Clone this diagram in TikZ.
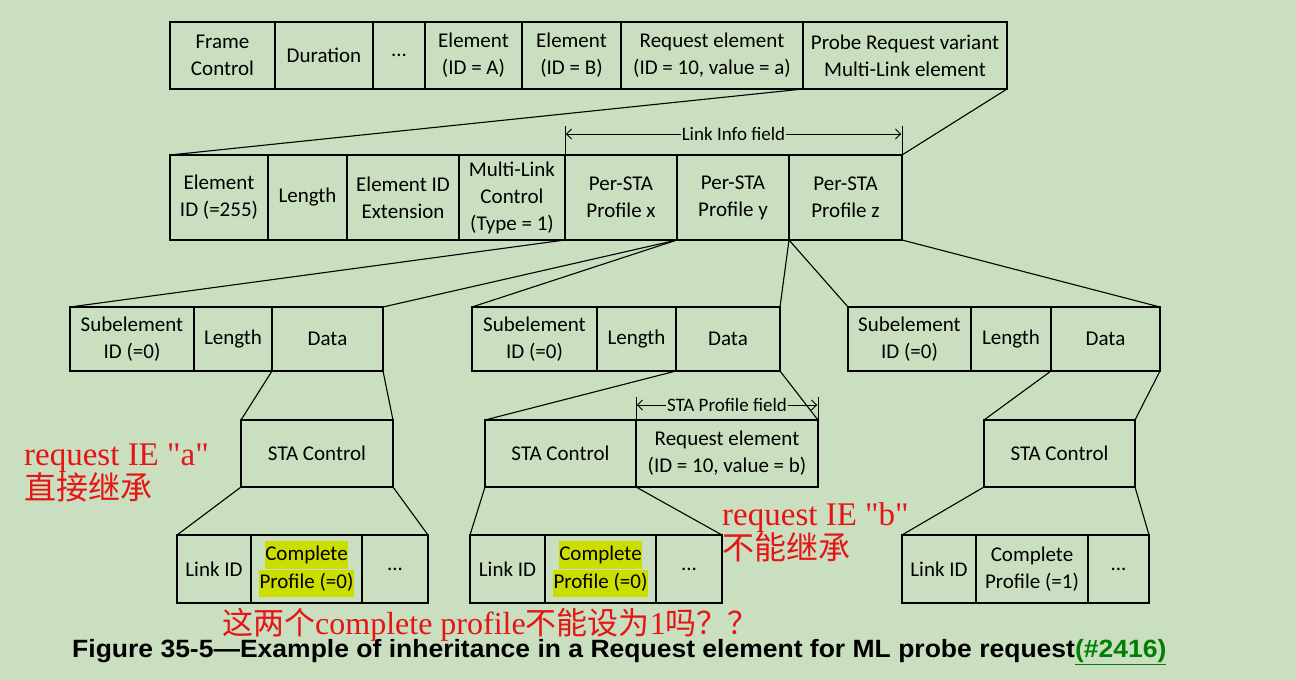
\documentclass[tikz,border=0pt]{standalone}
\usepackage{fontspec}
\setmainfont{Carlito}
\newfontfamily\rserif{Liberation Serif}
\newfontfamily\cjk{Noto Sans CJK SC}
\newfontfamily\capfont{Liberation Sans}
\usetikzlibrary{arrows.meta}
\definecolor{bg}{RGB}{201,223,192}
\definecolor{hlc}{RGB}{204,221,0}
\definecolor{redtxt}{RGB}{230,20,20}
\definecolor{lnk}{RGB}{0,128,0}
\newcommand\hlx[1]{{\setlength{\fboxsep}{0.4pt}\colorbox{hlc}{\strut #1}}}
\newcommand\cell[6]{\node[cellbox, minimum width={#3-#2}, minimum height={#5-#4}] (#1) at ({(#2+#3)/2},{(#4+#5)/2}) {#6};}
\begin{document}
\begin{tikzpicture}[x=1pt,y=-1pt,
  cellbox/.style={draw, line width=1.1pt, inner sep=0pt, outer sep=0pt, align=center, font=\fontsize{21}{27}\selectfont},
  conn/.style={line width=1.1pt},
  dimline/.style={line width=0.9pt, {Bar[width=0pt]Straight Barb[length=5pt,width=10pt]}-{Straight Barb[length=5pt,width=10pt]Bar[width=0pt]}},
  dimlabel/.style={fill=bg, inner sep=1pt, font=\fontsize{19}{20}\selectfont},
  redlabel/.style={text=redtxt, align=left, inner sep=0pt, anchor=north west}]
\fill[bg] (0,0) rectangle (1296,680);
\useasboundingbox (0,0) rectangle (1296,680);
% top row
\cell{fc}{170}{275}{22}{89}{Frame\\Control}
\cell{dur}{275}{373}{22}{89}{Duration}
\cell{dt}{373}{425}{22}{89}{...}
\cell{ea}{425}{522}{22}{89}{Element\\(ID = A)}
\cell{eb}{522}{621}{22}{89}{Element\\(ID = B)}
\cell{req}{621}{803}{22}{89}{Request element\\(ID = 10, value = a)}
\cell{prb}{803}{1007}{22}{89}{Probe Request variant\\Multi-Link element}
% second row
\cell{eid}{170}{268}{155}{240}{Element\\ID (=255)}
\cell{len}{268}{347}{155}{240}{Length}
\cell{ext}{347}{459}{155}{240}{Element ID\\Extension}
\cell{mlc}{459}{565}{155}{240}{Multi-Link\\Control\\(Type = 1)}
\cell{px}{565}{677}{155}{240}{Per-STA\\Profile x}
\cell{py}{677}{789}{155}{240}{Per-STA\\Profile y}
\cell{pz}{789}{902}{155}{240}{Per-STA\\Profile z}
% third row
\cell{sa}{70}{194}{307}{371}{Subelement\\ID (=0)}
\cell{la}{194}{272}{307}{371}{Length}
\cell{da}{272}{383}{307}{371}{Data}
\cell{sb}{472}{597}{307}{371}{Subelement\\ID (=0)}
\cell{lb}{597}{676}{307}{371}{Length}
\cell{db}{676}{780}{307}{371}{Data}
\cell{sc}{848}{971}{307}{371}{Subelement\\ID (=0)}
\cell{lc}{971}{1051}{307}{371}{Length}
\cell{dc}{1051}{1160}{307}{371}{Data}
% STA control row
\cell{sca}{241}{393}{420}{487}{STA Control}
\cell{scb}{485}{636}{420}{487}{STA Control}
\cell{reb}{636}{818}{420}{487}{Request element\\(ID = 10, value = b)}
\cell{scc}{984}{1135}{420}{487}{STA Control}
% bottom row
\cell{lia}{177}{251}{535}{603}{Link ID}
\cell{cpa}{251}{362}{535}{603}{\hlx{Complete}\\\hlx{Profile (=0)}}
\cell{xa}{362}{428}{535}{603}{...}
\cell{lib}{470}{545}{535}{603}{Link ID}
\cell{cpb}{545}{656}{535}{603}{\hlx{Complete}\\\hlx{Profile (=0)}}
\cell{xb}{656}{722}{535}{603}{...}
\cell{lic}{902}{976}{535}{603}{Link ID}
\cell{cpc}{976}{1088}{535}{603}{Complete\\Profile (=1)}
\cell{xc}{1088}{1149}{535}{603}{...}
% connectors
\draw[conn] (prb.south west) -- (eid.north west);
\draw[conn] (prb.south east) -- (pz.north east);
\draw[conn] (px.south west) -- (sa.north west);
\draw[conn] (px.south east) -- (da.north east);
\draw[conn] (py.south west) -- (sb.north west);
\draw[conn] (py.south east) -- (db.north east);
\draw[conn] (pz.south west) -- (sc.north west);
\draw[conn] (pz.south east) -- (dc.north east);
\draw[conn] (da.south west) -- (sca.north west);
\draw[conn] (da.south east) -- (sca.north east);
\draw[conn] (db.south west) -- (scb.north west);
\draw[conn] (db.south east) -- (reb.north east);
\draw[conn] (dc.south west) -- (scc.north west);
\draw[conn] (dc.south east) -- (scc.north east);
\draw[conn] (sca.south west) -- (lia.north west);
\draw[conn] (sca.south east) -- (xa.north east);
\draw[conn] (scb.south west) -- (lib.north west);
\draw[conn] (scb.south east) -- (xb.north east);
\draw[conn] (scc.south west) -- (lic.north west);
\draw[conn] (scc.south east) -- (xc.north east);
% dimension arrows
\coordinate (lil) at (565,134);
\coordinate (lir) at (902,134);
\draw[line width=0.9pt] (565,126) -- (px.north west);
\draw[line width=0.9pt] (902,126) -- (pz.north east);
\draw[dimline] (lil) -- (lir) node[midway, dimlabel] {Link Info field};
\coordinate (spl) at (636,405);
\coordinate (spr) at (818,405);
\draw[line width=0.9pt] (636,397) -- (reb.north west);
\draw[line width=0.9pt] (818,397) -- (reb.north east);
\draw[dimline] (spl) -- (spr) node[midway, dimlabel] {STA Profile field};
% red notes
\node[redlabel, font=\fontsize{32}{34}\selectfont] (nota) at (24,444) {{\rserif\fontsize{33}{34}\selectfont request IE "a"}\\{\cjk 直接继承}};
\node[redlabel, font=\fontsize{32}{34}\selectfont] (notb) at (722,502) {{\rserif\fontsize{33}{34}\selectfont request IE "b"}\\{\cjk 不能继承}};
\node[redlabel, font=\fontsize{31}{33}\selectfont] (notc) at (222,608) {{\cjk 这两个}{\rserif\fontsize{32}{33}\selectfont complete profile}{\cjk 不能设为}{\rserif\fontsize{32}{33}\selectfont 1}{\cjk 吗？？}};
% caption
\node[inner sep=0pt, anchor=west, font=\capfont\bfseries\fontsize{25}{28}\selectfont] (cap) at (72,652) {\scalebox{1.06}[1]{Figure 35-5—Example of inheritance in a Request element for ML probe request\textcolor{lnk}{\underline{(\#2416)}}}};
\end{tikzpicture}
\end{document}
